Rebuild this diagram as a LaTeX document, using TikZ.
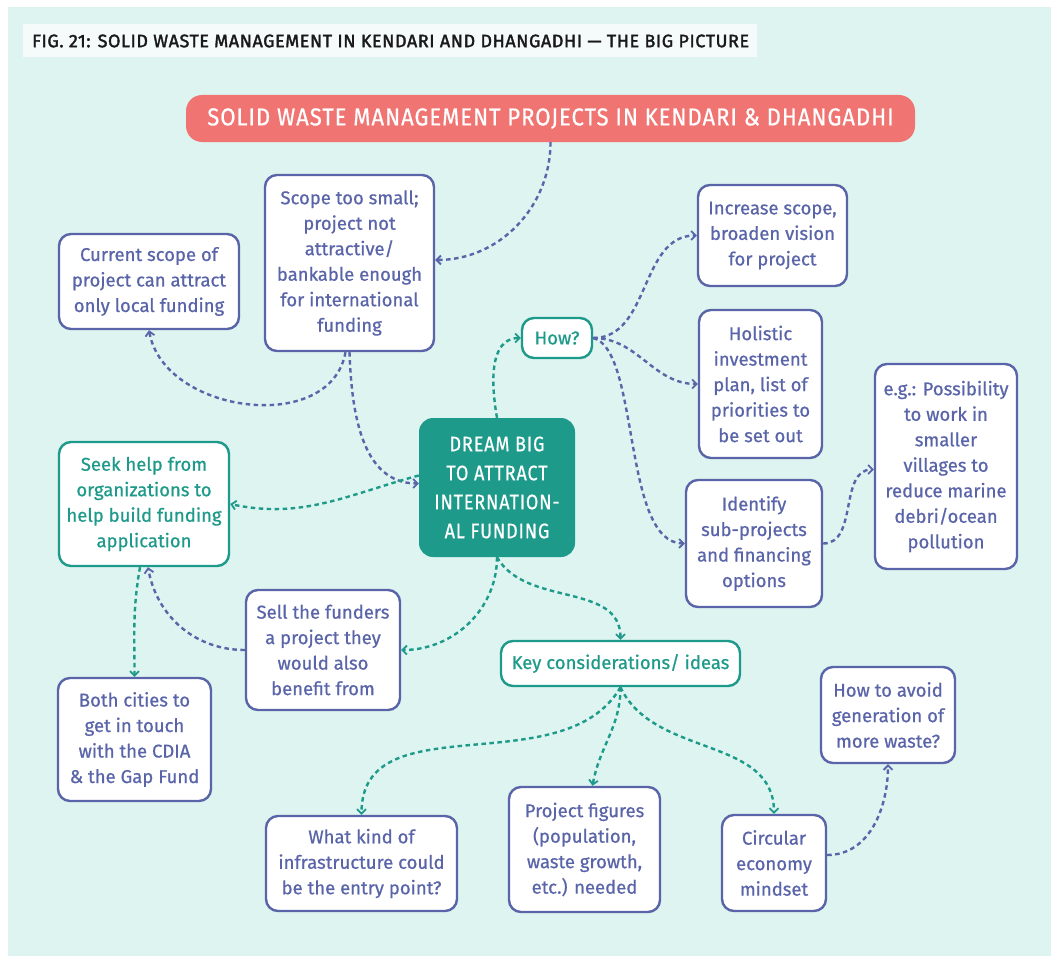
\documentclass[tikz,border=0pt]{standalone}
\usepackage{fontspec}
\setmainfont{Fira Sans}[FakeBold=0.7]
\newfontfamily\capsfont{Fira Sans}[FakeStretch=0.86,LetterSpace=4,FakeBold=0.6]
\newfontfamily\headfont{Fira Sans}[LetterSpace=3,FakeBold=1.8]
\newfontfamily\bannerfont{Fira Sans}[FakeStretch=0.9,LetterSpace=4,FakeBold=0.6]
\usetikzlibrary{arrows.meta}
\definecolor{bgmint}{HTML}{DDF4F1}
\definecolor{barwhite}{HTML}{F4FBFA}
\definecolor{inkblue}{HTML}{5A65A9}
\definecolor{inkteal}{HTML}{1E9A8A}
\definecolor{banner}{HTML}{F07572}
\begin{document}
\begin{tikzpicture}[x=1pt,y=-1pt,
  box/.style={draw, fill=white, line width=2.4pt, rounded corners=12pt,
    inner sep=0pt, align=center,
    font=\fontsize{18.5}{25.5}\selectfont},
  bluebox/.style={box, draw=inkblue, text=inkblue},
  tealbox/.style={box, draw=inkteal, text=inkteal},
  link/.style={line width=2.4pt, dash pattern=on 4.5pt off 3.5pt,
    -{Straight Barb[length=4.5pt,width=9pt,line width=1.8pt]}},
  bluelink/.style={link, draw=inkblue},
  teallink/.style={link, draw=inkteal}]
\useasboundingbox (0,0) rectangle (1059,963);
\fill[white] (0,0) rectangle (1059,963);
\fill[bgmint] (8,7) rectangle (1051,956);

% heading strip
\fill[barwhite] (23,24) rectangle (757,57);
\node[anchor=west, inner sep=0pt, text=black!90, font=\headfont\fontsize{18}{20}\selectfont]
  (fig) at (32,41) {FIG. 21: SOLID WASTE MANAGEMENT IN KENDARI AND DHANGADHI — THE BIG PICTURE};

% top banner
\node[fill=banner, rounded corners=16pt, minimum width=729pt, minimum height=47pt,
  inner sep=0pt, text=white, font=\bannerfont\fontsize{24.5}{28}\selectfont]
  (top) at (550.5,118.5) {SOLID WASTE MANAGEMENT PROJECTS IN KENDARI \& DHANGADHI};

% central node
\node[fill=inkteal, rounded corners=14pt, minimum width=156pt, minimum height=139pt,
  inner sep=0pt, align=center, text=white, font=\capsfont\fontsize{21}{29}\selectfont]
  (dream) at (497,487.5) {DREAM BIG\\TO ATTRACT\\INTERNATION-\\AL FUNDING};

% boxes
\node[bluebox, minimum width=169pt, minimum height=176pt] (scope) at (349.5,263)
  {Scope too small;\\project not\\attractive/\\bankable enough\\for international\\funding};
\node[bluebox, minimum width=180pt, minimum height=95pt] (cur) at (149,281.5)
  {Current scope of\\project can attract\\only local funding};
\node[bluebox, minimum width=149pt, minimum height=101pt] (incr) at (772.5,235.5)
  {Increase scope,\\broaden vision\\for project};
\node[bluebox, minimum width=123pt, minimum height=148pt] (holi) at (760.5,384)
  {Holistic\\investment\\plan, list of\\priorities to\\be set out};
\node[tealbox, minimum width=70pt, minimum height=40pt] (how) at (557,338) {How?};
\node[tealbox, minimum width=170pt, minimum height=124pt] (seek) at (144,504)
  {Seek help from\\organizations to\\help build funding\\application};
\node[bluebox, minimum width=136pt, minimum height=127pt] (ident) at (754,543.5)
  {Identify\\sub-projects\\and financing\\options};
\node[bluebox, minimum width=142pt, minimum height=205pt] (eg) at (946,466.5)
  {e.g.: Possibility\\to work in\\smaller\\villages to\\reduce marine\\debri/ocean\\pollution};
\node[bluebox, minimum width=154pt, minimum height=120pt] (sell) at (323,650)
  {Sell the funders\\a project they\\would also\\benefit from};
\node[tealbox, minimum width=239pt, minimum height=45pt] (key) at (620.5,663.5)
  {Key considerations/ ideas};
\node[bluebox, minimum width=153pt, minimum height=123pt] (both) at (134.5,739.5)
  {Both cities to\\get in touch\\with the CDIA\\\& the Gap Fund};
\node[bluebox, minimum width=134pt, minimum height=96pt] (avoid) at (888,715)
  {How to avoid\\generation of\\more waste?};
\node[bluebox, minimum width=191pt, minimum height=95pt] (what) at (361.5,863.5)
  {What kind of\\infrastructure could\\be the entry point?};
\node[bluebox, minimum width=151pt, minimum height=125pt] (fig2) at (584.5,849.5)
  {Project figures\\(population,\\waste growth,\\etc.) needed};
\node[bluebox, minimum width=104pt, minimum height=96pt] (circ) at (774,863)
  {Circular\\economy\\mindset};

% blue connectors
\draw[bluelink] (top.south) to[out=-90,in=0] ([yshift=3]scope.east);
\draw[bluelink] (scope.south) to[out=-88,in=180] ([yshift=4]dream.west);
\draw[bluelink] ([xshift=-4]scope.south) to[out=-100,in=-80,looseness=1.1] (cur.south);
\draw[bluelink] (how.east) to[out=0,in=180] (incr.west);
\draw[bluelink] (how.east) to[out=0,in=180] (holi.west);
\draw[bluelink] (how.east) .. controls (640,350) and (622,543) .. (ident.west);
\draw[bluelink] (ident.east) to[out=0,in=180] ([yshift=-3]eg.west);
\draw[bluelink] (sell.west) to[out=180,in=-80] ([xshift=4]seek.south);
\draw[bluelink] ([yshift=8]circ.east) to[out=0,in=-90] (avoid.south);

% teal connectors
\draw[teallink] (dream.north) to[out=100,in=180] (how.west);
\draw[teallink] ([yshift=12]dream.west) to[out=195,in=-12] (seek.east);
\draw[teallink] (dream.south) to[out=-90,in=0] (sell.east);
\draw[teallink] (dream.south) to[out=-60,in=90] (key.north);
\draw[teallink] ([xshift=-4]seek.south) to[out=-100,in=90] (both.north);
\draw[teallink] (key.south) to[out=-120,in=90] (what.north);
\draw[teallink] (key.south) to[out=-90,in=80] ([xshift=8]fig2.north);
\draw[teallink] (key.south) to[out=-65,in=90] (circ.north);
\end{tikzpicture}
\end{document}
